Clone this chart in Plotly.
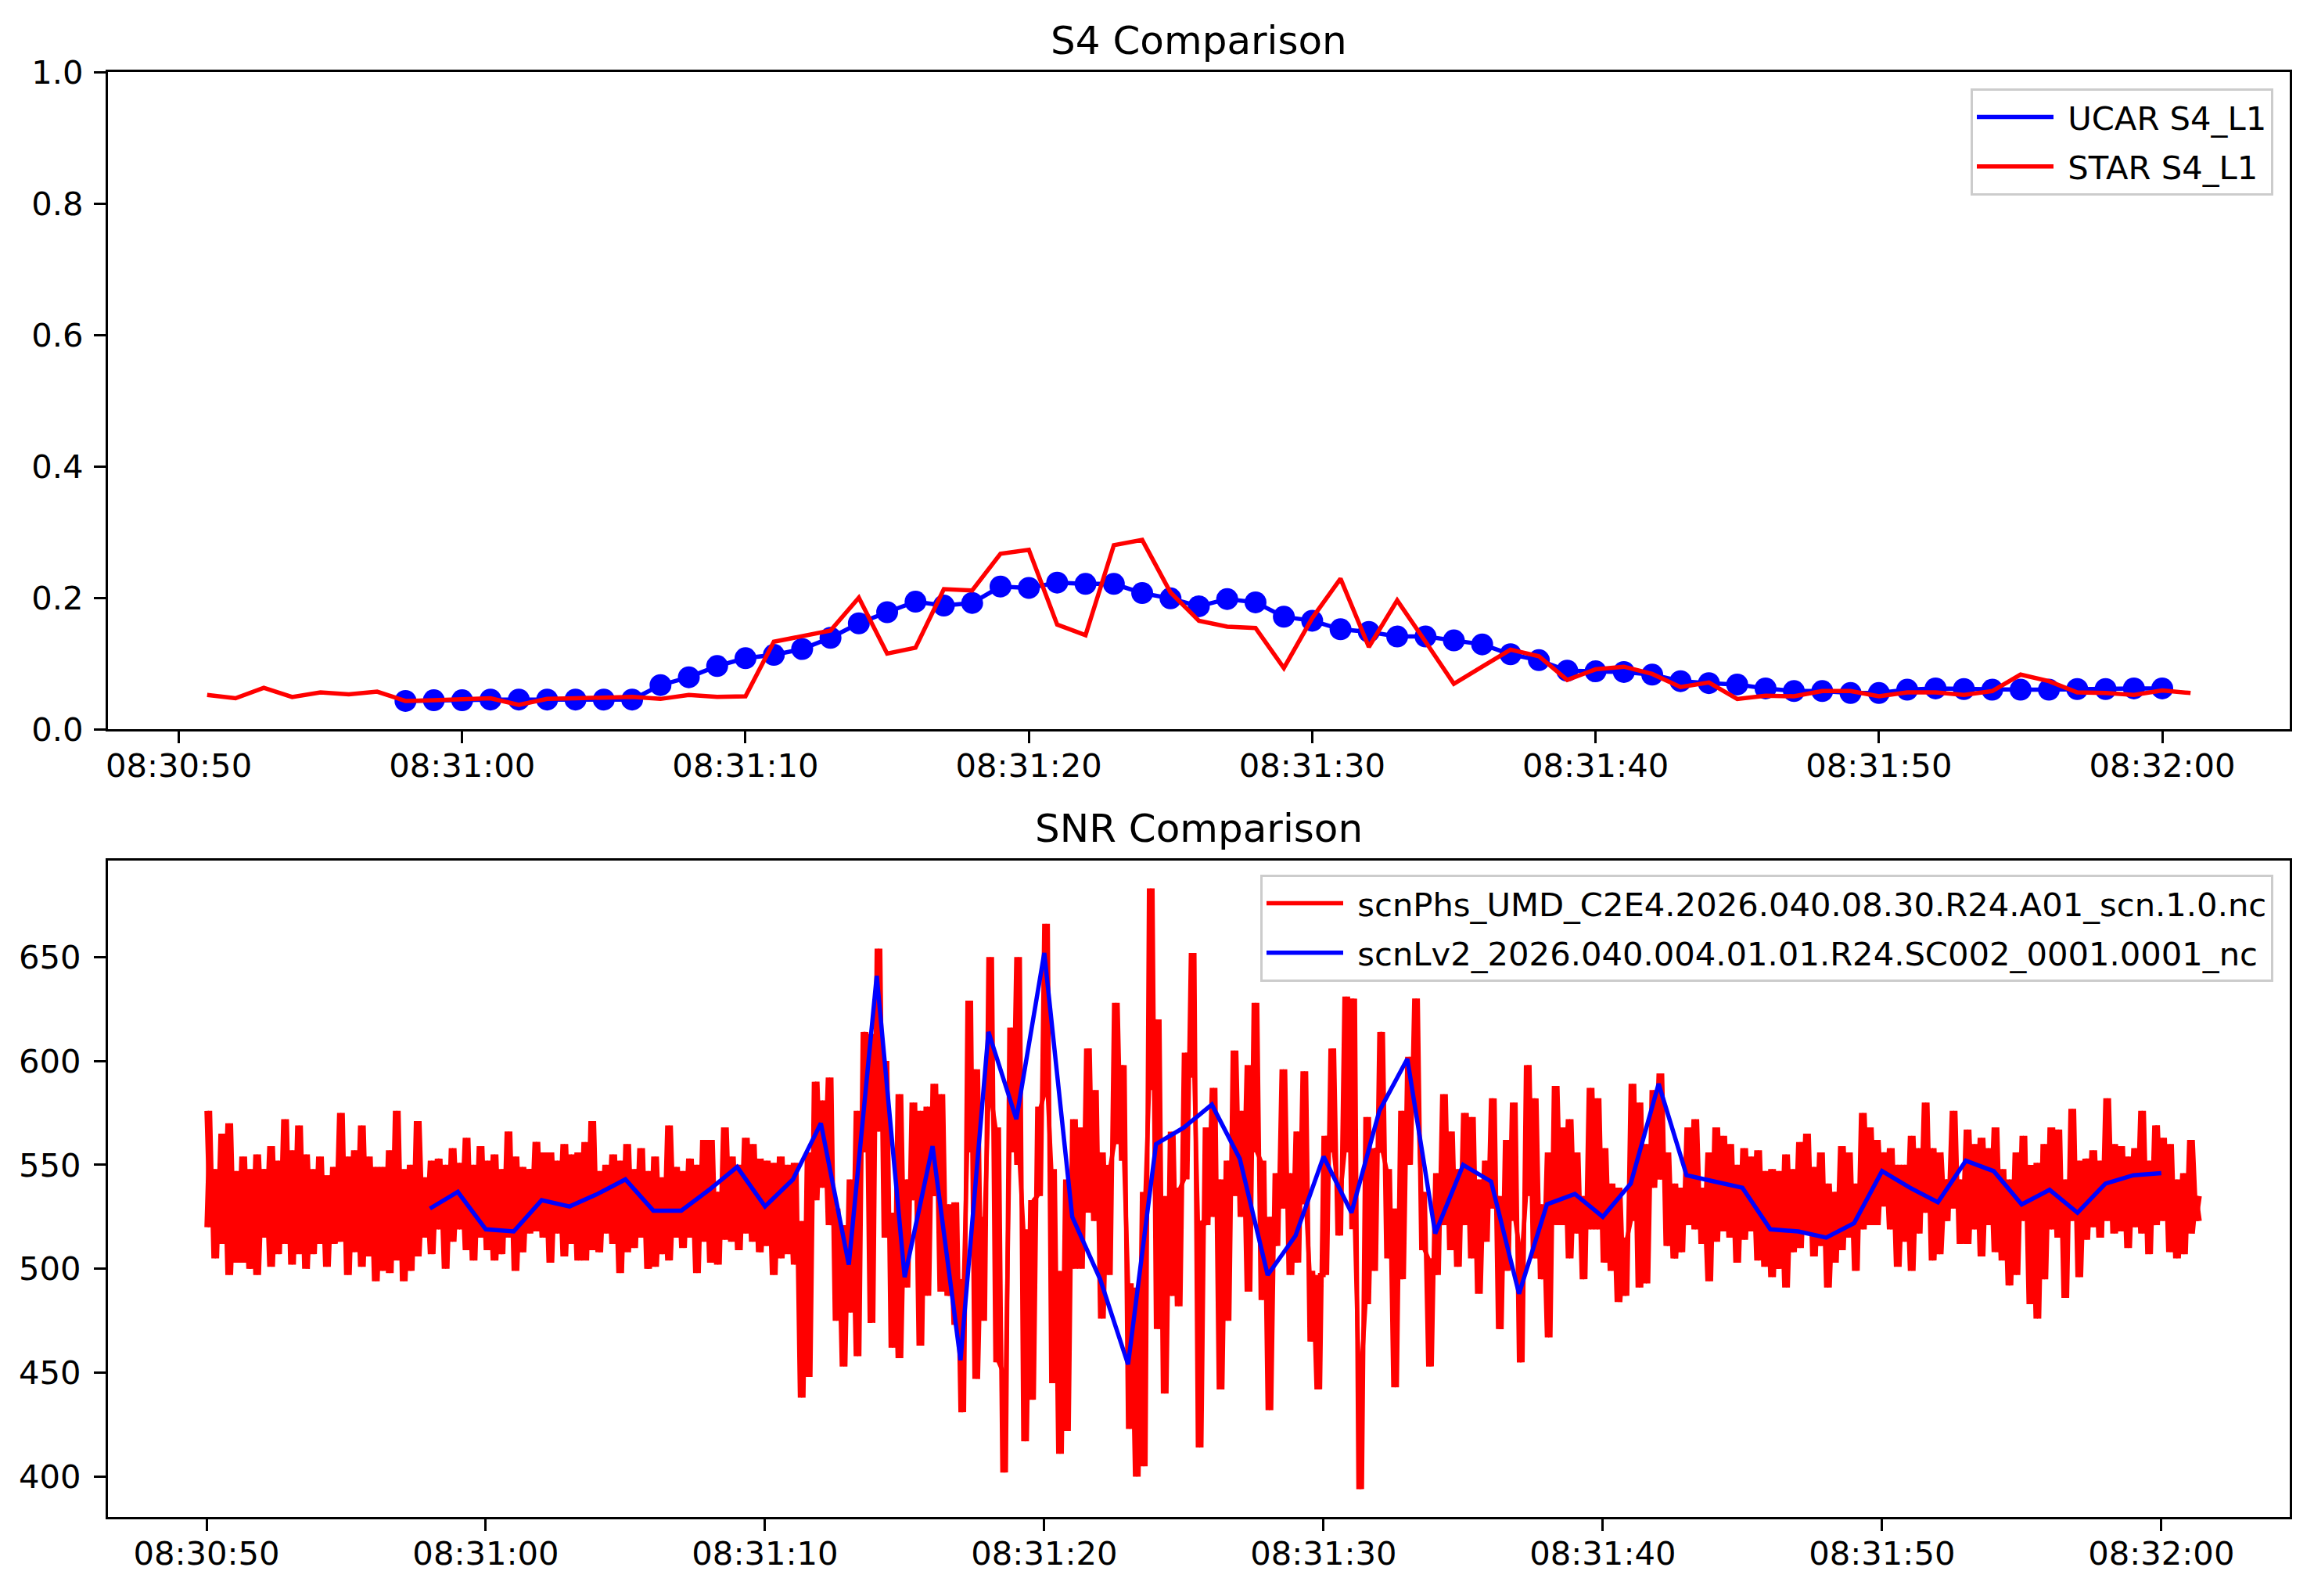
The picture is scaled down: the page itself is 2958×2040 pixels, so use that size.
import datetime as dt
import plotly.graph_objects as go

BASE = dt.datetime(2026, 2, 9, 8, 30, 50)

# ---------------- data (seconds measured from 08:30:50) ----------------
s4_ucar_start = 8   # 08:30:58, 1 s cadence
s4_ucar = [0.043, 0.044,
           0.044, 0.045, 0.045, 0.045, 0.045, 0.045, 0.045, 0.067, 0.079, 0.096,
           0.108, 0.113, 0.122, 0.139, 0.161, 0.178, 0.194, 0.188, 0.192, 0.217,
           0.215, 0.223, 0.221, 0.221, 0.207, 0.199, 0.187, 0.198, 0.193, 0.171,
           0.165, 0.152, 0.148, 0.141, 0.141, 0.135, 0.129, 0.114, 0.105, 0.089,
           0.088, 0.087, 0.083, 0.073, 0.070, 0.068, 0.062, 0.058, 0.058, 0.055,
           0.055, 0.060, 0.062, 0.061, 0.060, 0.060, 0.060, 0.061, 0.061, 0.062,
           0.062]

s4_star_start = 1   # 08:30:51, 1 s cadence
s4_star = [0.052, 0.047, 0.063, 0.049, 0.056, 0.053, 0.057, 0.043, 0.044,
           0.045, 0.047, 0.037, 0.046, 0.047, 0.048, 0.049, 0.046, 0.052, 0.049,
           0.050, 0.133, 0.141, 0.150, 0.200, 0.115, 0.124, 0.213, 0.211, 0.267,
           0.273, 0.159, 0.143, 0.280, 0.288, 0.208, 0.165, 0.156, 0.154, 0.093,
           0.169, 0.229, 0.125, 0.196, 0.133, 0.069, 0.095, 0.121, 0.111, 0.075,
           0.091, 0.095, 0.084, 0.064, 0.071, 0.046, 0.051, 0.050, 0.058, 0.058,
           0.050, 0.056, 0.056, 0.052, 0.058, 0.083, 0.073, 0.056, 0.055, 0.052,
           0.059, 0.055]

snr_blue_start = 8  # 08:30:58, 1 s cadence
snr_blue = [529, 537,
            519, 518, 533, 530, 536, 543, 528, 528, 538, 549,
            530, 543, 570, 502, 641, 496, 559, 456, 614, 572,
            652, 525, 495, 454, 560, 568, 579, 553, 497, 516,
            554, 527, 576, 601, 517, 550, 542, 488, 531, 536,
            525, 541, 589, 545, 542, 539, 519, 518, 515, 522,
            547, 539, 532, 552, 547, 531, 538, 527, 541, 545,
            546]

# high-rate SNR read as upper / lower extent per 0.25 s bin from 08:30:50
snr_red_step = 0.25
snr_red_hi = [
    576, 548, 565, 570, 547, 554, 548, 555, 548, 559, 552, 572,
    557, 569, 555, 548, 554, 545, 549, 575, 554, 557, 569, 554,
    549, 549, 557, 576, 548, 550, 571, 544, 552, 553, 550, 558,
    551, 563, 550, 559, 552, 555, 548, 566, 554, 549, 548, 561,
    556, 556, 552, 560, 555, 556, 561, 571, 547, 550, 555, 552,
    560, 548, 558, 547, 554, 544, 569, 549, 547, 553, 550, 562,
    562, 537, 568, 554, 550, 563, 560, 553, 552, 551, 554, 550,
    551, 523, 556, 590, 581, 592, 529, 521, 543, 576, 614, 613,
    654, 600, 527, 584, 543, 580, 576, 578, 589, 584, 531, 532,
    495, 629, 596, 525, 650, 568, 451, 616, 650, 519, 533, 578,
    666, 548, 499, 543, 572, 568, 606, 586, 556, 550, 628, 598,
    493, 491, 537, 683, 620, 535, 566, 539, 604, 652, 523, 568,
    587, 543, 552, 605, 576, 598, 628, 552, 525, 546, 596, 546,
    566, 595, 499, 497, 564, 606, 539, 631, 630, 455, 573, 558,
    614, 548, 529, 576, 602, 630, 537, 505, 546, 584, 566, 548,
    575, 573, 543, 552, 582, 535, 562, 580, 511, 598, 582, 531,
    556, 588, 568, 572, 556, 535, 587, 582, 558, 541, 539, 515,
    589, 580, 560, 586, 594, 556, 541, 539, 568, 572, 539, 556,
    568, 564, 560, 550, 558, 554, 557, 547, 548, 547, 555, 548,
    561, 565, 549, 556, 541, 537, 559, 556, 541, 575, 568, 562,
    556, 558, 550, 550, 564, 558, 580, 558, 556, 543, 576, 543,
    567, 560, 563, 558, 568, 548, 543, 556, 564, 550, 551, 560,
    568, 567, 543, 577, 552, 553, 557, 552, 582, 560, 559, 554,
    558, 576, 552, 569, 563, 560, 543, 546, 562, 535]
snr_red_lo = [
    520, 505, 512, 497, 503, 503, 500, 497, 515, 501, 507, 512,
    502, 507, 500, 507, 512, 501, 512, 513, 497, 508, 501, 506,
    494, 499, 498, 504, 494, 499, 506, 515, 507, 519, 500, 513,
    519, 509, 504, 515, 509, 504, 507, 515, 499, 508, 517, 518,
    515, 503, 517, 506, 512, 504, 504, 509, 508, 517, 512, 498,
    508, 510, 515, 500, 501, 507, 504, 515, 510, 515, 498, 513,
    503, 502, 514, 513, 509, 517, 513, 508, 511, 497, 505, 507,
    502, 438, 448, 533, 539, 521, 475, 453, 479, 458, 556, 474,
    566, 515, 462, 457, 491, 533, 463, 487, 535, 489, 487, 473,
    431, 556, 447, 475, 580, 455, 402, 556, 550, 417, 437, 535,
    584, 445, 411, 422, 500, 500, 527, 523, 476, 497, 560, 552,
    423, 400, 405, 586, 471, 440, 487, 482, 543, 592, 414, 521,
    525, 442, 475, 535, 525, 489, 556, 485, 432, 511, 529, 497,
    503, 531, 465, 442, 497, 556, 516, 556, 519, 394, 483, 499,
    556, 505, 443, 495, 550, 576, 509, 453, 497, 521, 509, 501,
    521, 505, 488, 513, 529, 471, 499, 523, 455, 535, 505, 495,
    467, 521, 521, 505, 517, 495, 519, 519, 503, 499, 484, 487,
    523, 491, 493, 539, 543, 511, 505, 508, 521, 519, 512, 494,
    513, 518, 515, 503, 514, 518, 504, 501, 496, 500, 491, 508,
    510, 517, 506, 511, 491, 503, 509, 515, 499, 519, 521, 521,
    530, 519, 501, 513, 499, 517, 527, 504, 507, 523, 529, 512,
    512, 519, 506, 521, 508, 504, 492, 497, 523, 483, 476, 495,
    519, 515, 486, 523, 496, 514, 520, 515, 523, 517, 518, 510,
    520, 517, 507, 521, 523, 508, 505, 507, 517, 523]

x_ticks_sec = [0, 10, 20, 30, 40, 50, 60, 70]
s4_y_ticks = [0.0, 0.2, 0.4, 0.6, 0.8, 1.0]
snr_y_ticks = [400, 450, 500, 550, 600, 650]

legend_s4 = ["UCAR S4_L1", "STAR S4_L1"]
legend_snr = ["scnPhs_UMD_C2E4.2026.040.08.30.R24.A01_scn.1.0.nc",
              "scnLv2_2026.040.004.01.01.R24.SC002_0001.0001_nc"]
titles = ["S4 Comparison", "SNR Comparison"]


def ts(sec):
    return (BASE + dt.timedelta(seconds=sec)).strftime("%Y-%m-%d %H:%M:%S.%f")


ucar_x = [ts(s4_ucar_start + i) for i in range(len(s4_ucar))]
star_x = [ts(s4_star_start + i) for i in range(len(s4_star))]
blue_x = [ts(snr_blue_start + i) for i in range(len(snr_blue))]

# the dense record is drawn as its hi/lo extents in two interleaved passes
red_x, red_y_a, red_y_b = [], [], []
for i, (hi, lo) in enumerate(zip(snr_red_hi, snr_red_lo)):
    t = i * snr_red_step
    red_x += [ts(t), ts(t + snr_red_step / 2)]
    red_y_a += [hi, lo]
    red_y_b += [lo, hi]

BLUE = "#0000ff"
RED = "#ff0000"
LW = 5.5
FONT = "DejaVu Sans"
FS = 41.7
NB = "\u00a0"

fig = go.Figure()
fig.add_trace(go.Scatter(x=ucar_x, y=s4_ucar, mode="lines", name=NB + legend_s4[0],
                         line=dict(color=BLUE, width=LW), xaxis="x", yaxis="y",
                         legend="legend", legendgroup="a"))
fig.add_trace(go.Scatter(x=ucar_x, y=s4_ucar, mode="markers", showlegend=False,
                         marker=dict(color=BLUE, size=28, line=dict(width=0)),
                         xaxis="x", yaxis="y"))
fig.add_trace(go.Scatter(x=star_x, y=s4_star, mode="lines", name=NB + legend_s4[1],
                         line=dict(color=RED, width=LW), xaxis="x", yaxis="y",
                         legend="legend", legendgroup="b"))
fig.add_trace(go.Scatter(x=red_x, y=red_y_a, mode="lines", name=NB + legend_snr[0],
                         line=dict(color=RED, width=LW), xaxis="x2", yaxis="y2",
                         legend="legend2", legendgroup="c"))
fig.add_trace(go.Scatter(x=red_x, y=red_y_b, mode="lines", showlegend=False,
                         line=dict(color=RED, width=LW), xaxis="x2", yaxis="y2",
                         legendgroup="c"))
fig.add_trace(go.Scatter(x=blue_x, y=snr_blue, mode="lines", name=NB + legend_snr[1],
                         line=dict(color=BLUE, width=LW), xaxis="x2", yaxis="y2",
                         legend="legend2", legendgroup="d"))

W, H = 2958, 2040
ML, MR, MT, MB = 138, 31, 92, 101
PH = H - MT - MB
top_dom = [(H - MB - 932) / PH, 1.0]
bot_dom = [0.0, (H - MB - 1100) / PH]

axis_common = dict(showline=True, linecolor="black", linewidth=3.3, mirror=True,
                   ticks="outside", ticklen=15, tickwidth=3.3, tickcolor="black",
                   showgrid=False, zeroline=False,
                   tickfont=dict(family=FONT, size=FS, color="black"))

xtickvals = [ts(s) for s in x_ticks_sec]
xticktext = [(BASE + dt.timedelta(seconds=s)).strftime("%H:%M:%S") for s in x_ticks_sec]

legend_common = dict(xanchor="right", yanchor="top",
                     bgcolor="rgba(255,255,255,0.8)", bordercolor="#cccccc",
                     borderwidth=3, font=dict(family=FONT, size=FS), itemwidth=98,
                     traceorder="grouped", tracegroupgap=6)

fig.update_layout(
    width=W, height=H,
    margin=dict(l=ML, r=MR, t=MT, b=MB, pad=0),
    paper_bgcolor="white", plot_bgcolor="white",
    font=dict(family=FONT, size=FS, color="black"),
    xaxis=dict(axis_common, type="date", anchor="y", domain=[0, 1],
               range=[ts(-2.5), ts(74.5)], tickvals=xtickvals, ticktext=xticktext,
               ticklabelstandoff=-7),
    yaxis=dict(axis_common, anchor="x", domain=top_dom, range=[0, 1],
               tickvals=s4_y_ticks, ticktext=[f"{v:.1f}" for v in s4_y_ticks],
               ticklabelstandoff=5),
    xaxis2=dict(axis_common, type="date", anchor="y2", domain=[0, 1],
                range=[ts(-3.53), ts(74.6)], tickvals=xtickvals, ticktext=xticktext,
                ticklabelstandoff=-7),
    yaxis2=dict(axis_common, anchor="x2", domain=bot_dom, range=[380.6, 696.4],
                tickvals=snr_y_ticks, ticklabelstandoff=8),
    legend=dict(legend_common, x=1 - 21 / (W - ML - MR), y=top_dom[1] - 21 / PH),
    legend2=dict(legend_common, x=1 - 21 / (W - ML - MR), y=bot_dom[1] - 18 / PH),
    showlegend=True,
    annotations=[
        dict(text=titles[0], xref="paper", yref="paper", x=0.5, y=top_dom[1],
             xanchor="center", yanchor="bottom", yshift=9, showarrow=False,
             font=dict(family=FONT, size=50, color="black")),
        dict(text=titles[1], xref="paper", yref="paper", x=0.5, y=bot_dom[1],
             xanchor="center", yanchor="bottom", yshift=10, showarrow=False,
             font=dict(family=FONT, size=50, color="black")),
    ],
)

fig.write_html("out.html", config={"displayModeBar": False},
               post_script="document.body.style.margin='0';")
